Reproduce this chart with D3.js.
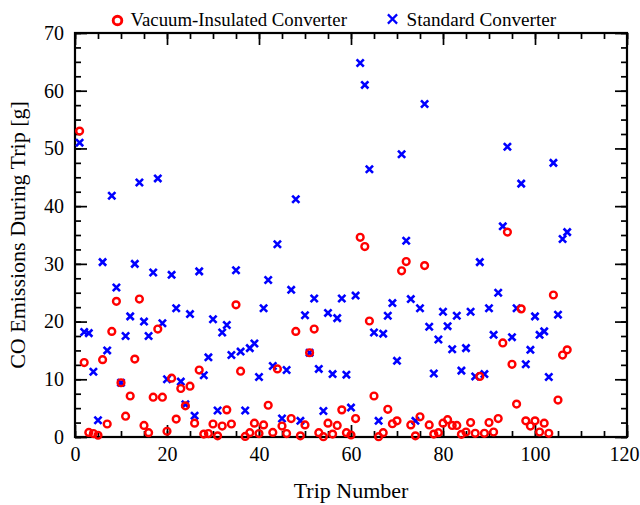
<!DOCTYPE html>
<html>
<head>
<meta charset="utf-8">
<script src="https://cdn.jsdelivr.net/npm/d3@7"></script>
<style>
  html, body { margin: 0; padding: 0; background: #fff; }
  svg { display: block; }
  text { font-family: "Liberation Serif", "Times New Roman", serif; fill: #000; }
</style>
</head>
<body>
<svg id="chart" width="640" height="505"></svg>
<script>
// Trip numbers (x) shared by both series
const tripNumbers = [1,2,3,4,5,6,7,8,9,10,11,12,13,14,15,16,17,18,19,20,
  21,22,23,24,25,26,27,28,29,30,31,32,33,34,35,36,37,38,39,40,
  41,42,43,44,45,46,47,48,49,50,51,52,53,54,55,56,57,58,59,60,
  61,62,63,64,65,66,67,68,69,70,71,72,73,74,75,76,77,78,79,80,
  81,82,83,84,85,86,87,88,89,90,91,92,93,94,95,96,97,98,99,100,
  101,102,103,104,105,106,107];

// CO emitted per trip [g], vacuum-insulated converter
const vacuumInsulated = [53.0,12.9,0.8,0.6,0.3,13.4,2.25,18.3,23.5,9.4,
  3.6,7.1,13.5,23.9,2.0,0.75,6.9,18.7,6.9,1.0,
  10.2,3.1,8.4,5.4,8.8,2.4,11.6,0.5,0.6,2.25,
  0.2,1.9,4.7,2.25,22.9,11.4,0.1,0.75,2.4,0.6,
  2.1,5.5,0.8,11.8,1.9,0.6,3.2,18.3,0.2,2.1,
  14.6,18.7,0.75,0.05,2.4,0.5,2.0,4.7,0.75,0.35,
  3.2,34.6,33.0,20.1,7.1,0.05,0.75,4.8,2.3,2.8,
  28.8,30.4,2.1,0.2,3.5,29.7,2.1,0.5,0.75,2.4,
  3.0,2.0,2.0,0.46,0.87,2.5,0.64,10.5,0.64,2.5,
  0.87,3.2,16.3,35.5,12.6,5.7,22.2,2.8,1.9,2.8,
  0.87,2.4,0.64,24.6,6.4,14.2,15.1];

// CO emitted per trip [g], standard converter
const standard = [51.0,18.2,18.0,11.3,2.9,30.3,15.0,41.8,25.9,9.4,
  17.5,20.9,30.0,44.1,20.0,17.5,28.5,44.8,19.7,10.0,
  28.1,22.3,9.6,5.65,21.3,3.7,28.7,10.7,13.8,20.4,
  4.6,18.1,19.4,14.2,28.9,14.8,4.6,15.4,16.2,10.4,
  22.3,27.2,12.3,33.4,3.2,11.6,25.5,41.2,2.8,21.1,
  14.6,24.0,11.8,4.5,21.5,10.9,20.6,24.0,10.8,5.1,
  24.5,64.8,61.0,46.4,18.1,2.8,17.9,21.0,23.2,13.2,
  49.0,34.0,23.9,2.8,22.3,57.7,19.1,11.0,16.9,21.7,
  19.2,15.2,21.0,11.5,15.4,21.7,10.5,30.3,10.9,22.3,
  17.7,25.0,36.5,50.3,17.3,22.3,43.9,12.6,15.1,20.9,
  17.7,18.3,10.4,47.5,21.2,34.3,35.5];

const seriesNames = ["Vacuum-Insulated Converter", "Standard Converter"];
const xTicks = [0, 20, 40, 60, 80, 100, 120];
const xMinorTicks = [0,5,10,15,20,25,30,35,40,45,50,55,60,65,70,75,80,85,90,95,100,105,110,115,120];
const yTicks = [0, 10, 20, 30, 40, 50, 60, 70];
const yMinorTicks = [0,2.5,5,7.5,10,12.5,15,17.5,20,22.5,25,27.5,30,32.5,35,37.5,40,42.5,45,47.5,50,52.5,55,57.5,60,62.5,65,67.5,70];
const xTitle = "Trip Number";
const yTitle = "CO Emissions During Trip [g]";

const svg = d3.select("#chart");
const plotL = 75, plotR = 627, plotT = 33, plotB = 437;

const x = d3.scaleLinear().domain([0, 120]).range([plotL, plotR]);
const y = d3.scaleLinear().domain([0, 70]).range([plotB, plotT]);

const RED = "#ff0000", BLUE = "#0000ff";
const MAJOR = 12, MINOR = 6, FS = 20;

function styleAxis(g) {
  g.select(".domain").remove();
  g.selectAll(".tick line").attr("stroke", "#000").attr("stroke-width", 1.7);
  g.selectAll(".tick text").style("font-size", FS + "px").attr("fill", "#000");
}

// bottom axis with labels
const xAxisG = svg.append("g").attr("transform", `translate(0,${plotB})`)
  .call(d3.axisBottom(x).tickValues(xTicks).tickSize(-MAJOR).tickPadding(10).tickFormat(d3.format("d")))
  .call(styleAxis);
// keep the last label inside the canvas edge
xAxisG.selectAll(".tick text").filter(d => d === 120).attr("dx", "-3");

svg.append("g").attr("transform", `translate(0,${plotB})`)
  .call(d3.axisBottom(x).tickValues(xMinorTicks).tickSize(-MINOR).tickFormat(""))
  .call(styleAxis);
// top axis (ticks only)
svg.append("g").attr("transform", `translate(0,${plotT})`)
  .call(d3.axisTop(x).tickValues(xTicks).tickSize(-MAJOR).tickFormat(""))
  .call(styleAxis);
svg.append("g").attr("transform", `translate(0,${plotT})`)
  .call(d3.axisTop(x).tickValues(xMinorTicks).tickSize(-MINOR).tickFormat(""))
  .call(styleAxis);
// left axis with labels
svg.append("g").attr("transform", `translate(${plotL},0)`)
  .call(d3.axisLeft(y).tickValues(yTicks).tickSize(-MAJOR).tickPadding(11).tickFormat(d3.format("d")))
  .call(styleAxis);
svg.append("g").attr("transform", `translate(${plotL},0)`)
  .call(d3.axisLeft(y).tickValues(yMinorTicks).tickSize(-MINOR).tickFormat(""))
  .call(styleAxis);
// right axis (ticks only)
svg.append("g").attr("transform", `translate(${plotR},0)`)
  .call(d3.axisRight(y).tickValues(yTicks).tickSize(-MAJOR).tickFormat(""))
  .call(styleAxis);
svg.append("g").attr("transform", `translate(${plotR},0)`)
  .call(d3.axisRight(y).tickValues(yMinorTicks).tickSize(-MINOR).tickFormat(""))
  .call(styleAxis);

// plot frame
svg.append("rect")
  .attr("x", plotL).attr("y", plotT)
  .attr("width", plotR - plotL).attr("height", plotB - plotT)
  .attr("fill", "none").attr("stroke", "#000").attr("stroke-width", 2.2);

// markers
const crossPath = s => `M${-s},${-s}L${s},${s}M${-s},${s}L${s},${-s}`;

const stdPts = tripNumbers.map((t, i) => ({ t, v: standard[i] }));
const vacPts = tripNumbers.map((t, i) => ({ t, v: vacuumInsulated[i] }));

svg.append("g").selectAll("path").data(stdPts).join("path")
  .attr("transform", d => `translate(${x(d.t)},${y(d.v)})`)
  .attr("d", crossPath(3.6))
  .attr("stroke", BLUE).attr("stroke-width", 2.6).attr("fill", "none");

svg.append("g").selectAll("circle").data(vacPts).join("circle")
  .attr("cx", d => x(d.t)).attr("cy", d => y(d.v))
  .attr("r", 3.4)
  .attr("fill", "none").attr("stroke", RED).attr("stroke-width", 2.4);

// legend
const lg = svg.append("g");
lg.append("circle").attr("cx", 117.5).attr("cy", 20.5).attr("r", 4.3)
  .attr("fill", "none").attr("stroke", RED).attr("stroke-width", 2.9);
lg.append("text").attr("x", 130.5).attr("y", 26).style("font-size", "18.8px").text(seriesNames[0]);
lg.append("path").attr("transform", "translate(392.5,19)").attr("d", crossPath(4.6))
  .attr("stroke", BLUE).attr("stroke-width", 2.2).attr("fill", "none");
lg.append("text").attr("x", 406.5).attr("y", 26).style("font-size", "19.2px").text(seriesNames[1]);

// axis titles
svg.append("text")
  .attr("x", (plotL + plotR) / 2).attr("y", 498)
  .attr("text-anchor", "middle").style("font-size", "22px")
  .text(xTitle);
svg.append("text")
  .attr("transform", `translate(25,${(plotT + plotB) / 2}) rotate(-90)`)
  .attr("text-anchor", "middle").style("font-size", "22px")
  .text(yTitle);
</script>
</body>
</html>
